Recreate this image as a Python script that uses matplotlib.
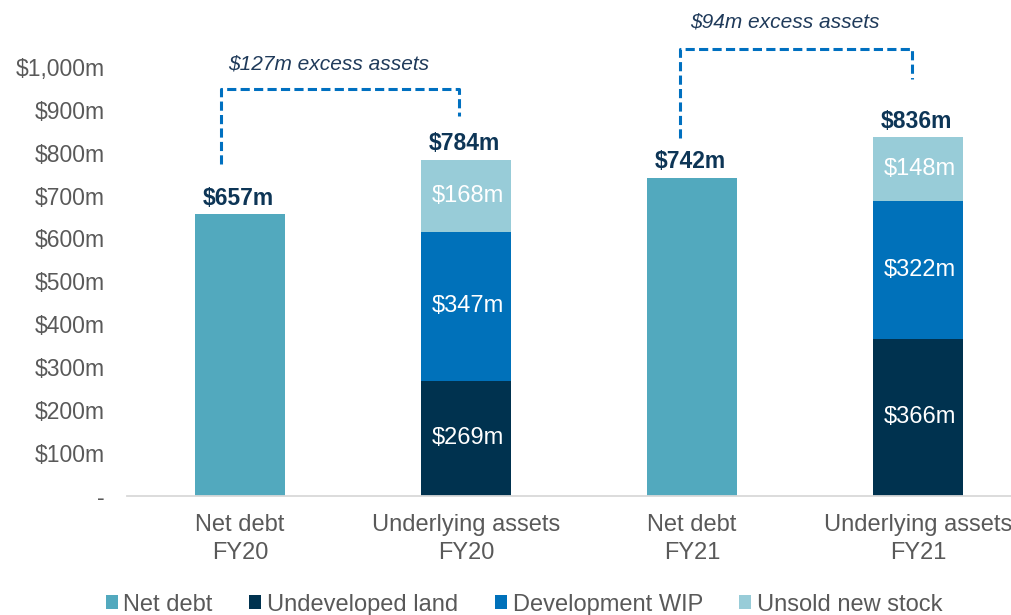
import matplotlib
matplotlib.use("Agg")
import matplotlib.pyplot as plt
from matplotlib.patches import Patch
import numpy as np

categories = ["Net debt\nFY20", "Underlying assets\nFY20", "Net debt\nFY21", "Underlying assets\nFY21"]
net_debt = [657, 0, 742, 0]
undeveloped_land = [0, 269, 0, 366]
development_wip = [0, 347, 0, 322]
unsold_stock = [0, 168, 0, 148]

series_names = ["Net debt", "Undeveloped land", "Development WIP", "Unsold new stock"]
series_colors = ["#52A9BE", "#00324F", "#0071BA", "#98CCD8"]

y_ticks = [0, 100, 200, 300, 400, 500, 600, 700, 800, 900, 1000]

# bracket layout (data coords): (left x, right x, top y, left bottom y, right bottom y)
BRACKETS = [
    (-0.084, 0.969, 948, 773, 885),
    (1.947, 2.973, 1041, 834, 972),
]
BRACKET_TEXT_Y = [1006, 1104]

GREY = "#595959"
NAVY = "#0D3556"
DASH = "#0070C0"

plt.rcParams["font.family"] = ["Liberation Sans", "DejaVu Sans"]

fig = plt.figure(figsize=(10.12, 6.15), dpi=100)
ax = fig.add_axes([127 / 1012, 119 / 615, 885 / 1012, 496 / 615])

x = np.arange(len(categories))
width = 0.4
series = [net_debt, undeveloped_land, development_wip, unsold_stock]
bottom = np.zeros(len(categories))
for vals, name, color in zip(series, series_names, series_colors):
    vals = np.asarray(vals, dtype=float)
    ax.bar(x, vals, width, bottom=bottom, color=color, label=name, zorder=2)
    for i, v in enumerate(vals):
        if v > 0 and name != "Net debt":
            ax.text(x[i] + 0.01, bottom[i] + v / 2, f"${v:.0f}m", ha="center", va="center",
                    color="white", fontsize=17, zorder=3)
    bottom += vals

totals = bottom
for i, t in enumerate(totals):
    ax.annotate(f"${t:.0f}m", (x[i], t), xytext=(-1, 3), textcoords="offset points",
                ha="center", va="bottom", fontsize=16.5, fontweight="bold", color=NAVY)

# excess asset brackets
for k, (xl, xr, ytop, yl, yr) in enumerate(BRACKETS):
    ax.plot([xl, xl, xr, xr], [yl, ytop, ytop, yr], color=DASH, lw=2.2,
            linestyle=(0, (3, 1.4)), clip_on=False, zorder=3)
    excess = totals[2 * k + 1] - totals[2 * k]
    ax.text((xl + xr) / 2 - 0.05, BRACKET_TEXT_Y[k], f"${excess:.0f}m excess assets",
            ha="center", va="center", fontsize=15, style="italic", color="#1F3A5A")

ax.set_xlim(-0.5, 3 + 94 / 226)
ax.set_ylim(0, 496 / 0.4292)
ax.set_yticks(y_ticks)
ax.set_yticklabels(["-"] + [f"${v:,}m" for v in y_ticks[1:]])
ax.set_xticks(x)
ax.set_xticklabels(categories, linespacing=1.35)
ax.tick_params(axis="y", length=0, pad=16, labelsize=16.5, labelcolor=GREY)
ax.tick_params(axis="x", length=0, pad=13, labelsize=17, labelcolor=GREY)
for s in ["top", "right", "left"]:
    ax.spines[s].set_visible(False)
ax.spines["bottom"].set_color("#D9D9D9")
ax.spines["bottom"].set_linewidth(1.3)

handles = [Patch(facecolor=c, label=n) for n, c in zip(series_names, series_colors)]
leg = fig.legend(handles=handles, loc="center", bbox_to_anchor=(0.518, 0.017), ncol=4,
                 frameon=False, fontsize=17, handlelength=0.5, handleheight=0.5,
                 handletextpad=0.25, columnspacing=1.55, borderpad=0)
for t in leg.get_texts():
    t.set_color(GREY)

fig.savefig("out.png", dpi=100)
